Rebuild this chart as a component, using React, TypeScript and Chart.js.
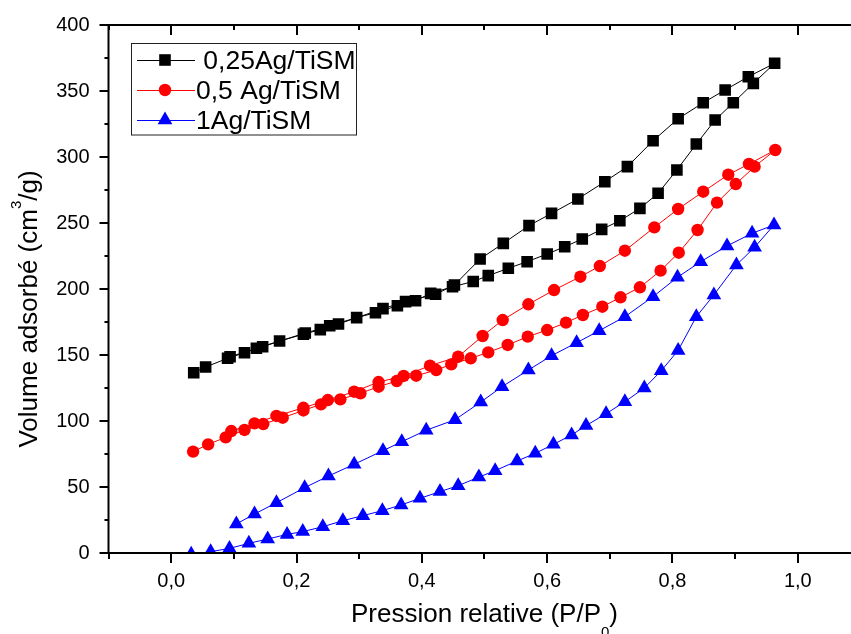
import React, { useEffect, useRef } from 'react';
import { Chart, registerables } from 'chart.js';

Chart.register(...registerables);

// ---------- data ----------
const SERIES_LABELS = [' 0,25Ag/TiSM', '0,5 Ag/TiSM', '1Ag/TiSM'];
const SERIES_COLORS = ['#000000', '#ff0000', '#0000ff'];

const X_TICKS = [0, 0.2, 0.4, 0.6, 0.8, 1.0];
const Y_TICKS = [0, 50, 100, 150, 200, 250, 300, 350, 400];

// 0,25Ag/TiSM  (adsorption then desorption)
const ADS_P_025 = [0.036, 0.055, 0.090, 0.117, 0.136, 0.173, 0.211, 0.238, 0.253, 0.296, 0.326, 0.361, 0.390, 0.414, 0.449, 0.482, 0.506, 0.538, 0.568, 0.600, 0.628, 0.656, 0.687, 0.716, 0.748, 0.777, 0.807, 0.838, 0.868, 0.897, 0.929, 0.963];
const ADS_V_025 = [136.6, 140.9, 147.5, 151.7, 155.1, 160.6, 165.7, 169.2, 172.2, 178.3, 182.0, 187.3, 191.1, 196.7, 201.7, 205.7, 210.1, 215.7, 220.7, 226.5, 232.0, 237.9, 245.2, 251.7, 261.1, 272.5, 290.2, 309.8, 328.0, 341.1, 355.8, 371.0];
const DES_P_025 = [0.921, 0.884, 0.849, 0.809, 0.769, 0.728, 0.692, 0.649, 0.607, 0.571, 0.530, 0.493, 0.452, 0.422, 0.374, 0.338, 0.267, 0.214, 0.146, 0.094];
const DES_V_025 = [360.8, 350.8, 341.1, 329.0, 312.3, 292.7, 281.3, 268.2, 257.3, 248.0, 234.6, 222.7, 203.0, 196.0, 190.4, 185.1, 173.5, 166.7, 156.3, 148.7];

// 0,5 Ag/TiSM
const ADS_P_05 = [0.035, 0.059, 0.087, 0.117, 0.147, 0.178, 0.211, 0.239, 0.270, 0.302, 0.331, 0.360, 0.391, 0.423, 0.447, 0.478, 0.506, 0.537, 0.569, 0.600, 0.630, 0.657, 0.688, 0.717, 0.748, 0.781, 0.810, 0.840, 0.871, 0.901, 0.931, 0.964];
const ADS_V_05 = [76.8, 82.3, 87.6, 93.2, 97.7, 102.5, 108.0, 112.6, 116.4, 121.0, 126.0, 130.3, 134.3, 138.6, 142.9, 147.5, 152.0, 157.6, 163.9, 168.9, 174.5, 180.3, 186.6, 193.7, 201.3, 213.9, 227.5, 244.7, 265.4, 279.5, 292.7, 305.3];
const DES_P_05 = [0.922, 0.889, 0.849, 0.809, 0.771, 0.724, 0.684, 0.653, 0.611, 0.570, 0.529, 0.497, 0.458, 0.413, 0.371, 0.331, 0.292, 0.250, 0.211, 0.168, 0.133, 0.096];
const DES_V_05 = [294.7, 286.6, 273.7, 260.6, 246.7, 229.0, 217.4, 209.3, 199.2, 188.4, 176.5, 164.4, 148.7, 141.9, 134.1, 129.5, 122.2, 115.9, 110.0, 103.8, 98.2, 92.4];

// 1Ag/TiSM
const ADS_P_1 = [0.032, 0.063, 0.093, 0.124, 0.154, 0.185, 0.210, 0.242, 0.274, 0.306, 0.337, 0.367, 0.397, 0.429, 0.458, 0.491, 0.517, 0.552, 0.581, 0.610, 0.639, 0.662, 0.694, 0.724, 0.755, 0.782, 0.809, 0.838, 0.866, 0.902, 0.931, 0.962];
const ADS_V_1 = [-1.0, 1.0, 3.5, 7.3, 10.6, 14.1, 16.2, 19.9, 24.5, 28.3, 32.1, 36.4, 41.4, 46.5, 51.0, 57.5, 62.4, 69.7, 75.5, 82.3, 89.4, 96.5, 105.5, 114.6, 125.0, 138.0, 153.5, 179.0, 195.5, 218.2, 231.6, 248.5];
const DES_P_1 = [0.927, 0.887, 0.845, 0.808, 0.769, 0.724, 0.683, 0.647, 0.607, 0.570, 0.528, 0.494, 0.453, 0.407, 0.368, 0.338, 0.292, 0.251, 0.213, 0.168, 0.133, 0.104];
const DES_V_1 = [242.2, 232.6, 220.7, 208.9, 194.2, 179.0, 168.4, 159.3, 149.5, 138.6, 126.0, 114.3, 101.0, 93.0, 84.3, 77.5, 67.2, 58.3, 49.5, 38.1, 29.5, 22.0];

// ---------- helpers ----------
const FONT = '"Liberation Sans", Arial, sans-serif';

function toPoints(px: number[], py: number[], dx: number[], dy: number[]) {
  const a = px.map((p, i) => ({ x: p, y: py[i] }));
  const d = dx.map((p, i) => ({ x: p, y: dy[i] }));
  return a.concat(d);
}

function drawMarker(ctx: CanvasRenderingContext2D, style: string, x: number, y: number, r: number, color: string) {
  ctx.save();
  ctx.fillStyle = color;
  ctx.beginPath();
  if (style === 'rect') {
    const s = r * Math.SQRT1_2;
    ctx.rect(x - s, y - s, 2 * s, 2 * s);
  } else if (style === 'circle') {
    ctx.arc(x, y, r, 0, Math.PI * 2);
  } else {
    for (let k = 0; k < 3; k++) {
      const a = (k * 2 * Math.PI) / 3;
      const px = x + Math.sin(a) * r;
      const py = y - Math.cos(a) * r;
      if (k === 0) ctx.moveTo(px, py);
      else ctx.lineTo(px, py);
    }
    ctx.closePath();
  }
  ctx.fill();
  ctx.restore();
}

const POINT_STYLES = ['rect', 'circle', 'triangle'];
const POINT_RADII = [8.2, 6.2, 8.5];

const framePlugin = {
  id: 'originFrame',
  afterDraw(chart: any) {
    const { ctx, chartArea } = chart;
    const { left, right, top, bottom } = chartArea;
    const xs = chart.scales.x;
    const ys = chart.scales.y;
    ctx.save();
    ctx.strokeStyle = '#000';
    ctx.lineWidth = 2;
    ctx.strokeRect(left, top, right - left, bottom - top);

    // x ticks (every 0.1)
    ctx.lineWidth = 2;
    for (let i = -1; i <= 11; i++) {
      const v = i / 10;
      const px = Math.round(xs.getPixelForValue(v));
      const major = i % 2 === 0;
      ctx.beginPath();
      ctx.moveTo(px, bottom);
      ctx.lineTo(px, bottom + (major ? 10 : 6));
      ctx.moveTo(px, top);
      ctx.lineTo(px, top + (major ? 10 : 5));
      ctx.stroke();
    }
    // y ticks (every 25)
    for (let i = 0; i <= 16; i++) {
      const v = i * 25;
      const py = Math.round(ys.getPixelForValue(v));
      const major = i % 2 === 0;
      ctx.beginPath();
      ctx.moveTo(left, py);
      ctx.lineTo(left - (major ? 9 : 4), py);
      ctx.moveTo(right, py);
      ctx.lineTo(right - (major ? 9 : 4), py);
      ctx.stroke();
    }

    // x title
    ctx.fillStyle = '#000';
    ctx.textBaseline = 'alphabetic';
    ctx.textAlign = 'left';
    const big = `26px ${FONT}`;
    const small = `15px ${FONT}`;
    ctx.font = big;
    const t1 = 'Pression relative (P/P';
    const t3 = ')';
    const w1 = ctx.measureText(t1).width;
    const w3 = ctx.measureText(t3).width;
    ctx.font = small;
    const w2 = ctx.measureText('0').width;
    const totalX = w1 + w2 + w3;
    const sx = 484.5 - totalX / 2;
    const by = 621.5;
    ctx.font = big;
    ctx.fillText(t1, sx, by);
    ctx.font = small;
    ctx.fillText('0', sx + w1, by + 15);
    ctx.font = big;
    ctx.fillText(t3, sx + w1 + w2, by);

    // y title (rotated)
    ctx.save();
    ctx.translate(37, 309);
    ctx.rotate(-Math.PI / 2);
    ctx.font = big;
    const y1 = 'Volume adsorbé (cm';
    const y3 = '/g)';
    const yw1 = ctx.measureText(y1).width;
    const yw3 = ctx.measureText(y3).width;
    ctx.font = small;
    const yw2 = ctx.measureText('3').width;
    const totalY = yw1 + yw2 + yw3;
    const ux = -totalY / 2;
    ctx.font = big;
    ctx.fillText(y1, ux, 0);
    ctx.font = small;
    ctx.fillText('3', ux + yw1, -16);
    ctx.font = big;
    ctx.fillText(y3, ux + yw1 + yw2, 0);
    ctx.restore();

    // legend
    ctx.lineWidth = 1;
    ctx.strokeStyle = '#222';
    ctx.strokeRect(131.5, 43.5, 225, 91.5);
    const rowsY = [60, 90, 120];
    chart.data.datasets.forEach((ds: any, i: number) => {
      const cy = rowsY[i];
      ctx.strokeStyle = ds.borderColor;
      ctx.lineWidth = 1;
      ctx.beginPath();
      ctx.moveTo(137, cy + 0.5);
      ctx.lineTo(195, cy + 0.5);
      ctx.stroke();
      drawMarker(ctx, POINT_STYLES[i], 165, cy, POINT_RADII[i], ds.borderColor);
      ctx.fillStyle = '#000';
      ctx.font = `26.5px ${FONT}`;
      ctx.textBaseline = 'alphabetic';
      ctx.fillText(ds.label, 196, cy + 9);
    });
    ctx.restore();
  },
};

export default function App() {
  const ref = useRef<HTMLCanvasElement | null>(null);

  useEffect(() => {
    if (!ref.current) return;
    const datasets = [
      toPoints(ADS_P_025, ADS_V_025, DES_P_025, DES_V_025),
      toPoints(ADS_P_05, ADS_V_05, DES_P_05, DES_V_05),
      toPoints(ADS_P_1, ADS_V_1, DES_P_1, DES_V_1),
    ].map((data, i) => ({
      label: SERIES_LABELS[i],
      data,
      showLine: true,
      borderColor: SERIES_COLORS[i],
      backgroundColor: SERIES_COLORS[i],
      borderWidth: 1,
      pointStyle: POINT_STYLES[i],
      pointRadius: POINT_RADII[i],
      pointBorderWidth: 0,
      pointBackgroundColor: SERIES_COLORS[i],
      pointBorderColor: SERIES_COLORS[i],
      tension: 0,
    }));

    const chart = new Chart(ref.current, {
      type: 'scatter',
      data: { datasets },
      options: {
        animation: false,
        responsive: false,
        devicePixelRatio: 1,
        layout: { padding: { left: 0, top: 25, right: 9.5, bottom: 0 } },
        plugins: { legend: { display: false }, tooltip: { enabled: false } },
        scales: {
          x: {
            type: 'linear',
            min: -0.1,
            max: 1.1,
            grid: { display: false, drawTicks: false },
            border: { display: false },
            afterBuildTicks: (s: any) => {
              s.ticks = X_TICKS.map((value) => ({ value }));
            },
            afterFit: (s: any) => {
              s.height = 81;
              s.paddingLeft = 0;
              s.paddingRight = 0;
            },
            ticks: {
              color: '#000',
              font: { family: FONT, size: 20 },
              padding: 16,
              maxRotation: 0,
              callback: (v: any) => Number(v).toFixed(1).replace('.', ','),
            },
          },
          y: {
            type: 'linear',
            min: 0,
            max: 400,
            grid: { display: false, drawTicks: false },
            border: { display: false },
            afterBuildTicks: (s: any) => {
              s.ticks = Y_TICKS.map((value) => ({ value }));
            },
            afterFit: (s: any) => {
              s.width = 108.5;
              s.paddingTop = 0;
              s.paddingBottom = 0;
            },
            ticks: {
              color: '#000',
              font: { family: FONT, size: 20 },
              padding: 19,
              callback: (v: any) => String(v),
            },
          },
        },
      },
      plugins: [framePlugin],
    });
    return () => chart.destroy();
  }, []);

  return (
    <div style={{ position: 'absolute', left: 0, top: 0, width: 851, height: 634, overflow: 'hidden', background: '#fff' }}>
      <canvas ref={ref} width={870} height={634} style={{ width: 870, height: 634, display: 'block' }} />
    </div>
  );
}
